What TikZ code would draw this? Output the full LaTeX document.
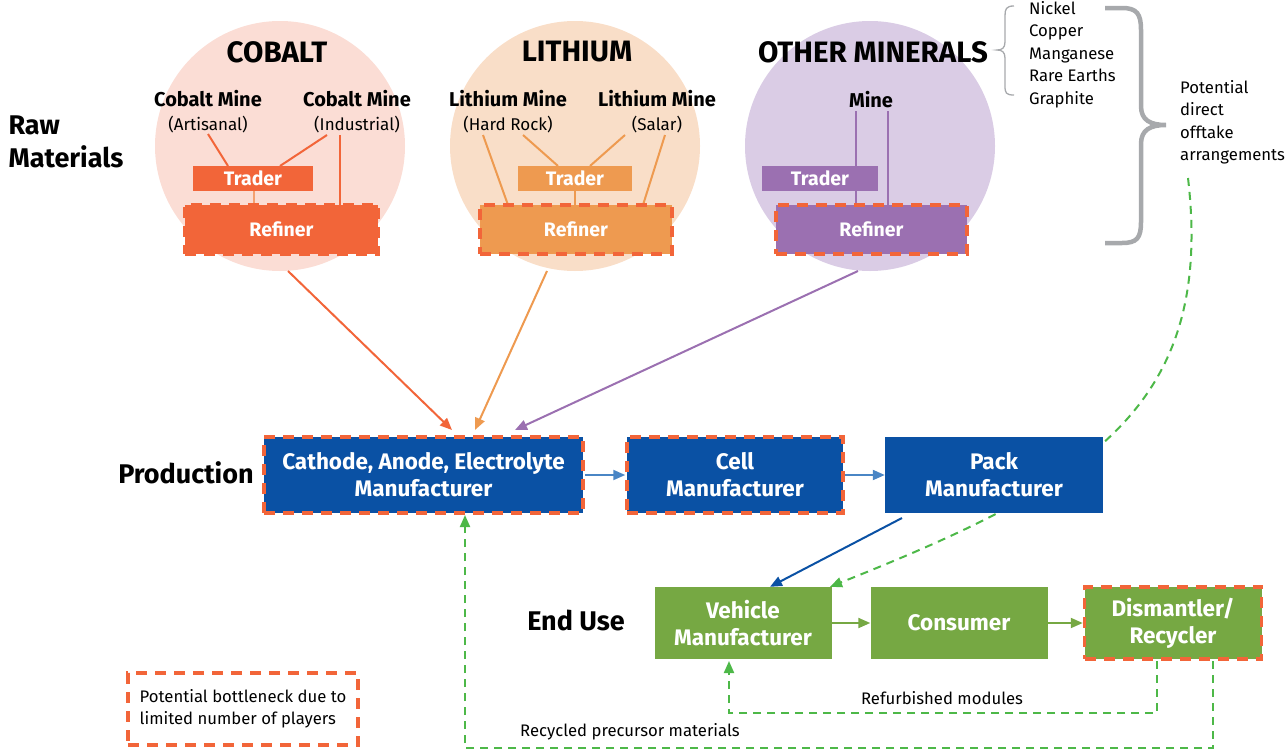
\documentclass[tikz,border=0pt]{standalone}
\usepackage{fontspec}
\setmainfont{Fira Sans}
\usetikzlibrary{arrows.meta}
\definecolor{cob}{HTML}{F26539}
\definecolor{cobl}{HTML}{F4A070}
\definecolor{lit}{HTML}{EE9A50}
\definecolor{pur}{HTML}{9B70B1}
\definecolor{cobbg}{HTML}{FBDDD5}
\definecolor{litbg}{HTML}{F9DEC8}
\definecolor{purbg}{HTML}{DACCE5}
\definecolor{dblue}{HTML}{0A51A4}
\definecolor{lblue}{HTML}{4A86C5}
\definecolor{grn}{HTML}{76A843}
\definecolor{gdash}{HTML}{4DB848}
\definecolor{bnc}{HTML}{F26539}
\definecolor{brk}{HTML}{A7A9AC}
\begin{document}
\begin{tikzpicture}[x=1pt,y=-1pt,
  circ/.style={circle, draw=none, minimum size=250pt, inner sep=0pt},
  ttl/.style={font=\fontsize{29.5}{32}\selectfont\bfseries, text=black},
  mine/.style={align=center, font=\fontsize{20}{24}\selectfont, inner sep=0pt},
  small/.style={text=white, font=\fontsize{19.5}{20}\selectfont\bfseries, inner sep=0pt, minimum height=25pt},
  bneck/.style={draw=bnc, line width=3.5pt, dash pattern=on 11pt off 8pt},
  bbox/.style={text=white, align=center, inner sep=0pt, minimum height=76pt, font=\fontsize{22.5}{27}\selectfont\bfseries},
  gbox/.style={fill=grn, text=white, align=center, inner sep=0pt, minimum height=72pt, minimum width=177pt, font=\fontsize{22.5}{27}\selectfont\bfseries},
  lbl/.style={font=\fontsize{27}{33}\selectfont\bfseries, align=left},
  plain/.style={font=\fontsize{16.7}{22.5}\selectfont, align=left, inner sep=0pt},
  arr/.style={line width=2pt, -{Triangle[length=12pt,width=10pt]}},
  gd/.style={draw=gdash, line width=2pt, dash pattern=on 8pt off 6pt},
  link/.style={line width=2pt}
]
\useasboundingbox (0,0) rectangle (1286,750);

% circles
\node[circ, fill=cobbg] (cobc) at (280,146) {};
\node[circ, fill=litbg] (litc) at (575,146) {};
\node[circ, fill=purbg] (purc) at (870,146) {};

% titles
\node[ttl] (cobt) at (277,52) {COBALT};
\node[ttl] (litt) at (577,52) {LITHIUM};
\node[ttl] (purt) at (873,52) {OTHER MINERALS};

% mine labels
\node[mine] (cm1) at (208,112) {\textbf{Cobalt Mine}\\{\fontsize{17}{20}\selectfont (Artisanal)}};
\node[mine] (cm2) at (357,112) {\textbf{Cobalt Mine}\\{\fontsize{17}{20}\selectfont (Industrial)}};
\node[mine] (lm1) at (508,112) {\textbf{Lithium Mine}\\{\fontsize{17}{20}\selectfont (Hard Rock)}};
\node[mine] (lm2) at (657,112) {\textbf{Lithium Mine}\\{\fontsize{17}{20}\selectfont (Salar)}};
\node[mine, font=\fontsize{20}{24}\selectfont\bfseries] (om) at (871,100) {Mine};

% connection coordinates
\coordinate (c1a) at (208,134); \coordinate (c1b) at (228,166);
\coordinate (c2a) at (327,135); \coordinate (c2b) at (280,166);
\coordinate (c3a) at (340,135); \coordinate (c3b) at (340,205);
\coordinate (c4a) at (254,191); \coordinate (c4b) at (254,205);
\coordinate (l1a) at (483,135); \coordinate (l1b) at (508,205);
\coordinate (l2a) at (523,135); \coordinate (l2b) at (558,166);
\coordinate (l3a) at (625,135); \coordinate (l3b) at (590,166);
\coordinate (l4a) at (665,135); \coordinate (l4b) at (643,205);
\coordinate (l5a) at (575,191); \coordinate (l5b) at (575,205);
\coordinate (o1a) at (856,111); \coordinate (o1b) at (856,205);
\coordinate (o2a) at (888,111); \coordinate (o2b) at (888,205);

\draw[link, cob] (c1a) -- (c1b);
\draw[link, cob] (c2a) -- (c2b);
\draw[link, cob] (c3a) -- (c3b);
\draw[link, cobl] (c4a) -- (c4b);
\draw[link, lit] (l1a) -- (l1b);
\draw[link, lit] (l2a) -- (l2b);
\draw[link, lit] (l3a) -- (l3b);
\draw[link, lit] (l4a) -- (l4b);
\draw[link, lit] (l5a) -- (l5b);
\draw[link, pur] (o1a) -- (o1b);
\draw[link, pur] (o2a) -- (o2b);

% traders & refiners
\node[small, fill=cob, minimum width=120pt] (ctr) at (253,178.5) {Trader};
\node[small, fill=lit, minimum width=114pt] (ltr) at (575,178.5) {Trader};
\node[small, fill=pur, minimum width=116pt] (otr) at (820,178.5) {Trader};
\node[small, bneck, fill=cob, minimum width=193pt, minimum height=49pt] (cref) at (281.5,229.5) {Refiner};
\node[small, bneck, fill=lit, minimum width=192pt, minimum height=49pt] (lref) at (576,229.5) {Refiner};
\node[small, bneck, fill=pur, minimum width=191pt, minimum height=49pt] (oref) at (871.5,229.5) {Refiner};

% list and braces
\node[plain, anchor=north west] (list) at (1029,1) {Nickel\\Copper\\Manganese\\Rare Earths\\Graphite};
\draw[brk, line width=1.3pt] (1014,6) .. controls (1006,6) and (1005,9) .. (1005,16) -- (1005,42) .. controls (1005,48) and (1002,50) .. (997,50) .. controls (1002,50) and (1005,52) .. (1005,58) -- (1005,86) .. controls (1005,93) and (1006,95) .. (1014,95);
\draw[brk, line width=4.5pt] (1105,8) -- (1122,8) .. controls (1137,8) and (1141,14) .. (1141,30) -- (1141,106) .. controls (1141,120) and (1150,125) .. (1166,125) .. controls (1150,125) and (1141,130) .. (1141,144) -- (1141,222) .. controls (1141,238) and (1137,243) .. (1122,243) -- (1105,243);
\node[plain, anchor=north west] (pot) at (1180,80) {Potential\\direct\\offtake\\arrangements};
\coordinate (potb) at (1188,178);

% labels
\node[lbl, anchor=west] (raw) at (5,142) {Raw\\Materials};
\node[lbl] (prod) at (186,473) {Production};
\node[lbl] (enduse) at (576,620) {End Use};

% direct offtake dashed curve (behind pack box)
\node[gbox] (veh) at (743,623) {Vehicle\\Manufacturer};
\draw[gd, -{Triangle[length=12pt,width=10pt]}] (potb) .. controls (1215,410) and (1085,485) .. ([xshift=87pt]veh.north);

% production boxes
\node[bbox, fill=dblue, bneck, minimum width=319pt] (cath) at (423.5,475) {Cathode, Anode, Electrolyte\\Manufacturer};
\node[bbox, fill=dblue, bneck, minimum width=216pt] (cell) at (735,475) {Cell\\Manufacturer};
\node[bbox, fill=dblue, minimum width=218pt] (pack) at (994,475) {Pack\\Manufacturer};

\draw[arr, lblue] (cath.east) -- (cell.west);
\draw[arr, lblue] (cell.east) -- (pack.west);

% refiner arrows
\coordinate (cathc) at (452,430);
\coordinate (cathl) at (475,430);
\coordinate (catho) at (515,430);
\draw[arr, cob] (288,271) -- (cathc);
\draw[arr, lit] (547,271) -- (cathl);
\draw[arr, pur] (858,271) -- (catho);

% end use
\node[gbox] (cons) at (959,623) {Consumer};
\node[gbox, bneck] (dism) at (1173,623) {Dismantler/\\Recycler};
\draw[arr, grn] (veh.east) -- (cons.west);
\draw[arr, grn] (cons.east) -- (dism.west);
\draw[arr, dblue] (902,518) -- ([xshift=27pt]veh.north);

% return loops
\coordinate (r1) at (1157,713);
\coordinate (r2) at (729,713);
\coordinate (q1) at (1213,748);
\coordinate (q2) at (465,748);
\draw[gd, -{Triangle[length=12pt,width=10pt]}] (1157,661) -- (r1) -- (r2) -- (729,661);
\draw[gd, -{Triangle[length=12pt,width=10pt]}] (1213,661) -- (q1) -- (q2) -- (465,515);
\node[plain] (refl) at (942,698) {Refurbished modules};
\node[plain] (recl) at (630,732) {Recycled precursor materials};

% legend
\node[plain, bneck, draw, minimum width=230pt, minimum height=72pt] (leg) at (243,709) {Potential bottleneck due to\\limited number of players};
\end{tikzpicture}
\end{document}
